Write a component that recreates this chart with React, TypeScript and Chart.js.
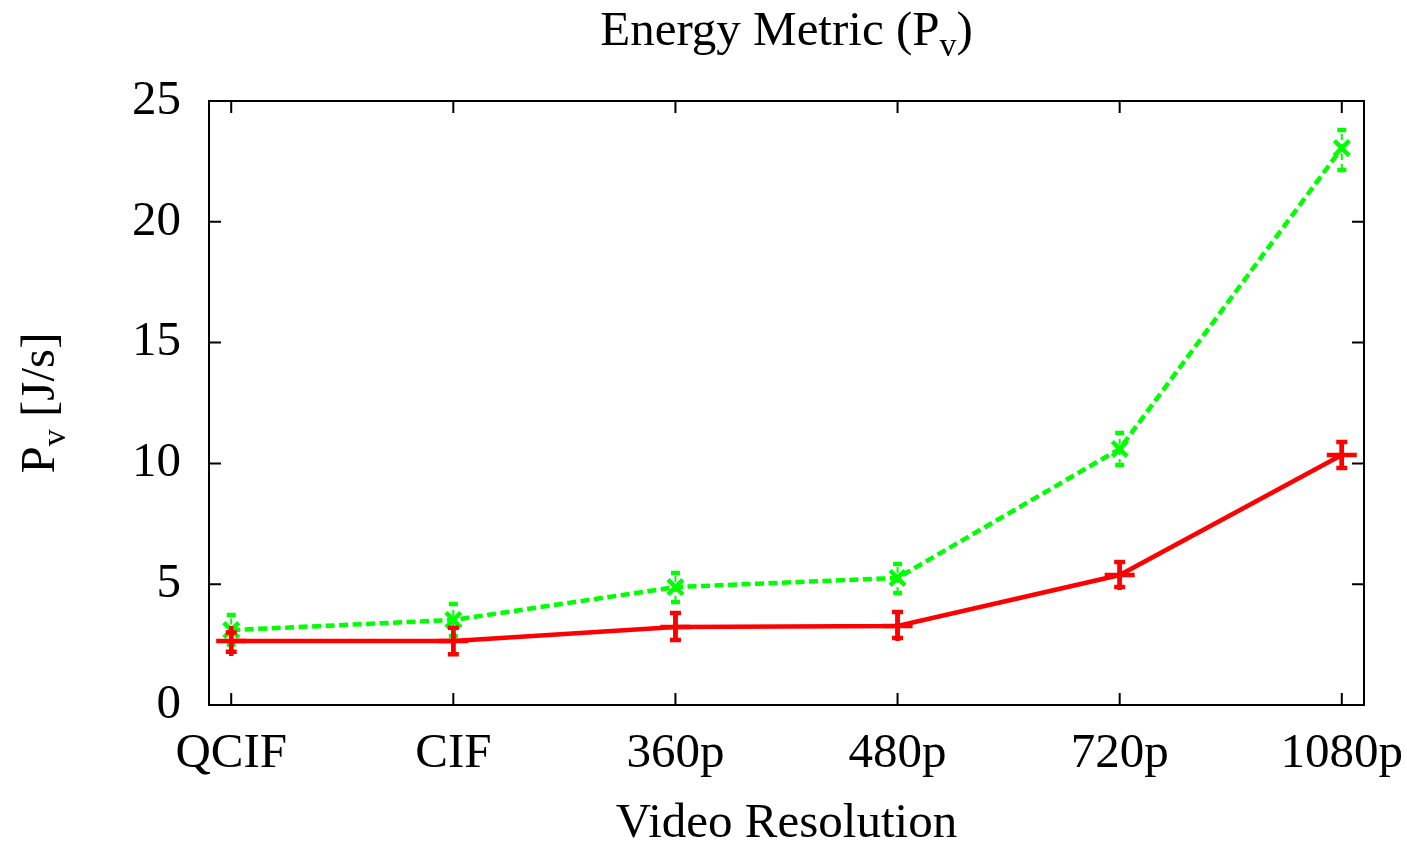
import React, { useEffect, useRef } from 'react';
import { Chart, registerables } from 'chart.js';
Chart.register(...registerables);

const categories = ['QCIF', 'CIF', '360p', '480p', '720p', '1080p'];
const yTicks = [0, 5, 10, 15, 20, 25];

const redValues = [2.65, 2.65, 3.23, 3.27, 5.38, 10.35];
const redLow = [2.2, 2.1, 2.69, 2.77, 4.88, 9.81];
const redHigh = [3.0, 3.2, 3.81, 3.85, 5.92, 10.89];

const greenValues = [3.1, 3.52, 4.88, 5.26, 10.6, 23.05];
const greenLow = [2.5, 2.86, 4.26, 4.64, 9.93, 22.14];
const greenHigh = [3.73, 4.18, 5.46, 5.84, 11.26, 23.8];

const FONT = '"Liberation Serif", "DejaVu Serif", serif';
const FS = 49;

function drawSubText(c: CanvasRenderingContext2D, parts: { t: string; sub?: boolean }[], cx: number, baseY: number) {
  const mainF = `${FS}px ${FONT}`;
  const subF = `${Math.round(FS * 0.7)}px ${FONT}`;
  let total = 0;
  const widths = parts.map((p) => {
    c.font = p.sub ? subF : mainF;
    const w = c.measureText(p.t).width;
    total += w;
    return w;
  });
  let x = cx - total / 2;
  c.textAlign = 'left';
  c.textBaseline = 'alphabetic';
  parts.forEach((p, i) => {
    c.font = p.sub ? subF : mainF;
    c.fillText(p.t, x, baseY + (p.sub ? 11 : 0));
    x += widths[i];
  });
}

export default function App() {
  const ref = useRef<HTMLCanvasElement>(null);
  useEffect(() => {
    const canvas = ref.current!;

    const framePlugin = {
      id: 'frame',
      beforeDatasetsDraw(chart: any) {
        const c = chart.ctx as CanvasRenderingContext2D;
        const a = chart.chartArea;
        const xs = chart.scales.x;
        const ys = chart.scales.y;
        c.save();
        c.strokeStyle = '#000';
        c.lineWidth = 2;
        c.beginPath();
        yTicks.forEach((v) => {
          const y = ys.getPixelForValue(v);
          c.moveTo(a.left, y);
          c.lineTo(a.left + 12, y);
          c.moveTo(a.right, y);
          c.lineTo(a.right - 12, y);
        });
        categories.forEach((_, i) => {
          const x = xs.getPixelForValue(i);
          c.moveTo(x, a.bottom);
          c.lineTo(x, a.bottom - 12);
          c.moveTo(x, a.top);
          c.lineTo(x, a.top + 12);
        });
        c.stroke();
        c.strokeRect(a.left, a.top, a.right - a.left, a.bottom - a.top);
        c.restore();
      },
      afterDraw(chart: any) {
        const c = chart.ctx as CanvasRenderingContext2D;
        const a = chart.chartArea;
        const cx = (a.left + a.right) / 2;
        c.save();
        c.fillStyle = '#000';
        drawSubText(c, [{ t: 'Energy Metric (P' }, { t: 'v', sub: true }, { t: ')' }], cx, 45);
        drawSubText(c, [{ t: 'Video Resolution' }], cx, 837);
        c.translate(54, (a.top + a.bottom) / 2);
        c.rotate(-Math.PI / 2);
        drawSubText(c, [{ t: 'P' }, { t: 'v', sub: true }, { t: ' [J/s]' }], 0, 0);
        c.restore();
      },
    };

    const errorPlugin = {
      id: 'errbars',
      afterDatasetDraw(chart: any, args: any) {
        const ds = chart.data.datasets[args.index];
        const meta = args.meta;
        const ys = chart.scales.y;
        const c = chart.ctx as CanvasRenderingContext2D;
        c.save();
        c.strokeStyle = ds.borderColor;
        ds.errLow.forEach((lo: number, i: number) => {
          const x = meta.data[i].x;
          const y1 = ys.getPixelForValue(lo);
          const y2 = ys.getPixelForValue(ds.errHigh[i]);
          c.lineWidth = ds.errLineWidth;
          c.setLineDash(ds.errDash);
          c.beginPath();
          c.moveTo(x, y1);
          c.lineTo(x, y2);
          c.stroke();
          c.setLineDash([]);
          c.lineWidth = 4.5;
          c.beginPath();
          c.moveTo(x - ds.capHalf, y1);
          c.lineTo(x + ds.capHalf, y1);
          c.moveTo(x - ds.capHalf, y2);
          c.lineTo(x + ds.capHalf, y2);
          c.stroke();
        });
        c.restore();
      },
    };

    const chart = new Chart(canvas, {
      type: 'line',
      data: {
        datasets: [
          {
            label: 'red',
            data: redValues.map((v, i) => ({ x: i, y: v })),
            borderColor: '#ff0000',
            backgroundColor: '#ff0000',
            borderWidth: 4.5,
            pointStyle: 'cross',
            pointRadius: 15,
            pointBorderWidth: 4.5,
            pointHoverRadius: 15,
            tension: 0,
            errLow: redLow,
            errHigh: redHigh,
            errLineWidth: 4.5,
            errDash: [],
            capHalf: 5.5,
          } as any,
          {
            label: 'green',
            data: greenValues.map((v, i) => ({ x: i, y: v })),
            borderColor: '#00ff00',
            backgroundColor: '#00ff00',
            borderWidth: 4.5,
            borderDash: [9, 4.5],
            pointStyle: 'crossRot',
            pointRadius: 10.5,
            pointBorderWidth: 4.5,
            pointHoverRadius: 10.5,
            tension: 0,
            errLow: greenLow,
            errHigh: greenHigh,
            errLineWidth: 2,
            errDash: [6, 4],
            capHalf: 4.5,
          } as any,
        ],
      },
      options: {
        responsive: false,
        animation: false,
        devicePixelRatio: 1,
        layout: { padding: { top: 101, right: 43, left: 0, bottom: 0 } },
        plugins: { legend: { display: false }, tooltip: { enabled: false }, title: { display: false } },
        scales: {
          x: {
            type: 'linear',
            min: -0.1,
            max: 5.1,
            afterBuildTicks: (s: any) => {
              s.ticks = categories.map((_, i) => ({ value: i }));
            },
            afterFit: (s: any) => {
              s.height = 137;
              s.paddingLeft = 0;
              s.paddingRight = 0;
            },
            grid: { display: false, drawTicks: false },
            border: { display: false },
            ticks: {
              autoSkip: false,
              maxRotation: 0,
              padding: 20,
              color: '#000',
              font: { family: FONT, size: FS },
              callback: (v: any) => categories[Math.round(Number(v))] ?? '',
            },
          },
          y: {
            type: 'linear',
            min: 0,
            max: 25,
            afterBuildTicks: (s: any) => {
              s.ticks = yTicks.map((v) => ({ value: v }));
            },
            afterFit: (s: any) => {
              s.width = 209;
              s.paddingTop = 0;
              s.paddingBottom = 0;
            },
            grid: { display: false, drawTicks: false },
            border: { display: false },
            ticks: {
              padding: 28,
              color: '#000',
              font: { family: FONT, size: FS },
            },
          },
        },
      },
      plugins: [framePlugin, errorPlugin],
    });
    return () => chart.destroy();
  }, []);

  return (
    <div style={{ position: 'fixed', left: 0, top: 0, width: 1407, height: 842, background: '#fff' }}>
      <canvas ref={ref} width={1407} height={842} style={{ width: 1407, height: 842, display: 'block' }} />
    </div>
  );
}
